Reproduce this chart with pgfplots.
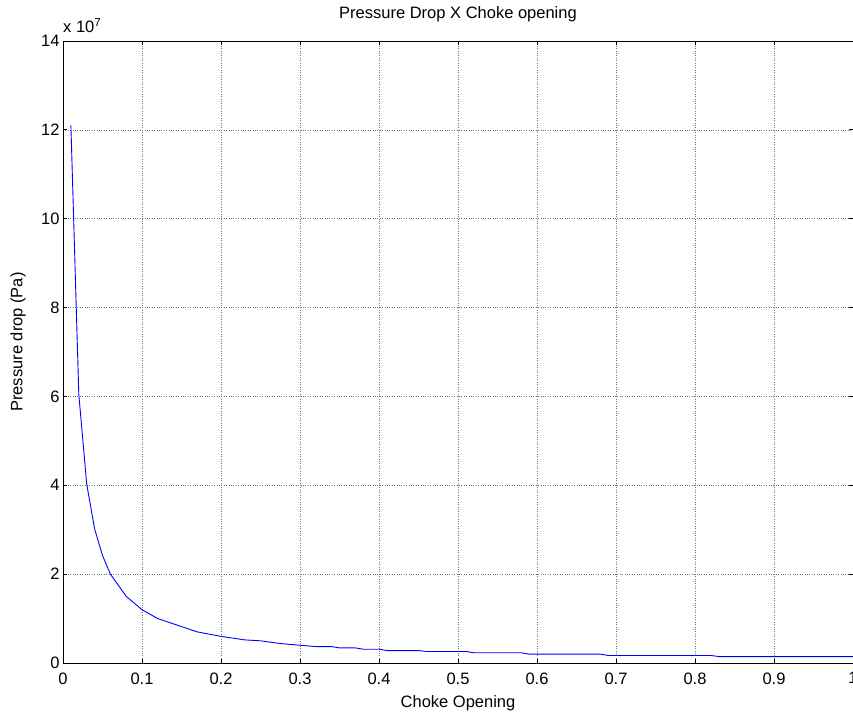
\documentclass[border=0pt]{standalone}
\usepackage{pgfplots}
\pgfplotsset{compat=1.18}
\usepackage{fontspec}
\setmainfont{Liberation Sans}

\begin{document}
\begin{tikzpicture}
\begin{axis}[
    width=790pt, height=622pt, scale only axis,
    xmin=0, xmax=1, ymin=0, ymax=1.4e8,
    xtick={0,0.1,0.2,0.3,0.4,0.5,0.6,0.7,0.8,0.9,1},
    xticklabels={0,0.1,0.2,0.3,0.4,0.5,0.6,0.7,0.8,0.9,1},
    ytick={0,2e7,4e7,6e7,8e7,1e8,1.2e8,1.4e8},
    yticklabels={0,2,4,6,8,10,12,14},
    scaled y ticks=false,
    tick align=inside, major tick length=4pt,
    grid=major, grid style={dotted, black!55, line width=0.6pt},
    axis line style={line width=0.8pt},
    tick style={black, line width=0.8pt},
    font=\fontsize{16.5}{19}\selectfont,
    xticklabel style={yshift=-6pt},
    title={Pressure Drop X Choke opening},
    title style={at={(axis description cs:0.5,1)}, anchor=base, yshift=16pt},
    xlabel={Choke Opening},
    xlabel style={at={(axis description cs:0.5,0)}, anchor=center, yshift=-40pt},
    ylabel={Pressure drop (Pa)},
    ylabel style={at={(axis description cs:0,0.516)}, anchor=center, yshift=45pt},
]
% pressure drop vs choke opening
\addplot[color={rgb,255:red,0;green,0;blue,255}, line width=0.9pt] coordinates {
    (0.01,12.1e7) (0.02,6.05e7) (0.03,4.03e7) (0.04,3.02e7) (0.05,2.42e7)
    (0.06,2.0e7) (0.08,1.5e7) (0.10,1.2e7) (0.12,1.0e7) (0.17,0.7e7)
    (0.20,0.6e7) (0.23,0.52e7) (0.25,0.5e7) (0.27,0.45e7) (0.28,0.43e7)
    (0.30,0.4e7) (0.32,0.37e7) (0.34,0.37e7) (0.35,0.34e7) (0.37,0.34e7)
    (0.38,0.31e7) (0.40,0.31e7) (0.41,0.28e7) (0.45,0.28e7) (0.46,0.26e7)
    (0.51,0.26e7) (0.52,0.23e7) (0.58,0.23e7) (0.59,0.2e7) (0.68,0.2e7)
    (0.69,0.17e7) (0.82,0.17e7) (0.83,0.145e7) (1.0,0.145e7)
};
\coordinate (sw) at (rel axis cs:0,0);
\coordinate (ne) at (rel axis cs:1,1);
\end{axis}
\node[anchor=base west, inner sep=0pt, yshift=8pt, font=\fontsize{16.5}{19}\selectfont] at (sw|-ne) {x 10\textsuperscript{7}};
\pgfresetboundingbox
\path ([shift={(-63pt,-50pt)}]sw) rectangle ([shift={(0pt,41pt)}]ne);
\end{tikzpicture}
\end{document}
